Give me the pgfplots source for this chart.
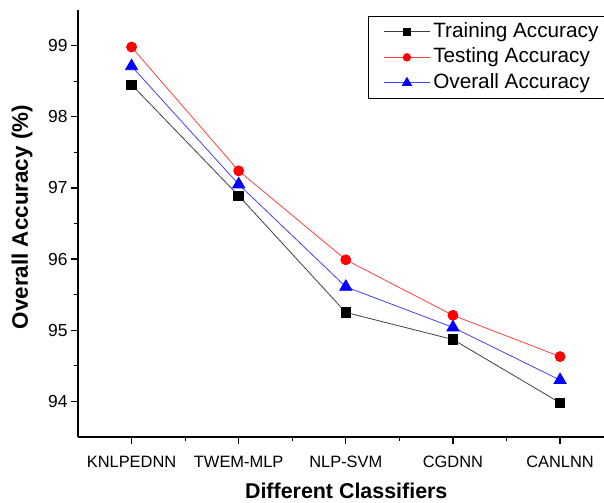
\documentclass[border=0pt]{standalone}
\usepackage{pgfplots}
\pgfplotsset{compat=1.18}
\usepackage{fontspec}
\setmainfont{Liberation Sans}
\begin{document}
\begin{tikzpicture}
\useasboundingbox (-78bp,-66bp) rectangle (526bp,437bp);
\begin{axis}[
  scale only axis,
  width=526bp, height=427bp,
  xmin=-0.5, xmax=4.41,
  ymin=93.5, ymax=99.5,
  axis lines=left,
  axis line style={-, line width=1.2bp},
  tick style={line width=1.2bp, black},
  tick align=outside,
  major tick length=7bp,
  minor tick length=4bp,
  xtick={0,1,2,3,4},
  xticklabels={KNLPEDNN,TWEM-MLP,NLP-SVM,CGDNN,CANLNN},
  minor x tick num=1,
  ytick={94,95,96,97,98,99},
  minor y tick num=1,
  /pgf/number format/assume math mode=true,
  xticklabel style={font=\fontsize{16.5}{19}\selectfont, yshift=-9bp},
  yticklabel style={font=\fontsize{17.5}{20}\selectfont},
  xlabel={Different Classifiers},
  ylabel={Overall Accuracy (\%)},
  xlabel style={font=\bfseries\fontsize{21.5}{24}\selectfont, at={(axis description cs:0.51,-0.1265)}, anchor=center},
  ylabel style={font=\bfseries\fontsize{22.5}{25}\selectfont, at={(axis description cs:-0.1065,0.515)}, anchor=center},
  legend style={at={(axis description cs:1,1)}, anchor=north east, xshift=5bp, yshift=-6bp,
    draw=black, line width=1.2bp, font=\fontsize{20.8}{24}\selectfont, row sep=0bp,
    inner xsep=7bp, inner ysep=2.5bp,
    nodes={inner sep=3bp, text height=15bp, text depth=4.5bp}},
  legend cell align=left,
  legend image code/.code={\path (-8bp,0bp); \draw[mark repeat=2,mark phase=2,#1, every mark/.append style={scale=0.75}] plot coordinates {(0bp,0bp) (23bp,0bp) (46bp,0bp)};},
]
\addplot[draw=black!75, line width=0.8bp, mark=square*, mark size=4.8bp, mark options={fill=black, draw=black, solid}] coordinates {
 (0,98.45) (1,96.89) (2,95.25) (3,94.87) (4,93.98)};
\addlegendentry{Training Accuracy}
\addplot[draw=red!75!white, line width=0.8bp, mark=*, mark size=5bp, mark options={fill=red, draw=red, solid}] coordinates {
 (0,98.98) (1,97.24) (2,95.99) (3,95.21) (4,94.63)};
\addlegendentry{Testing Accuracy}
\addplot[draw=blue!75!white, line width=0.8bp, mark=triangle*, mark size=7bp, mark options={fill=blue, draw=blue, solid}] coordinates {
 (0,98.71) (1,97.05) (2,95.61) (3,95.04) (4,94.30)};
\addlegendentry{Overall Accuracy}
\end{axis}
\end{tikzpicture}
\end{document}
